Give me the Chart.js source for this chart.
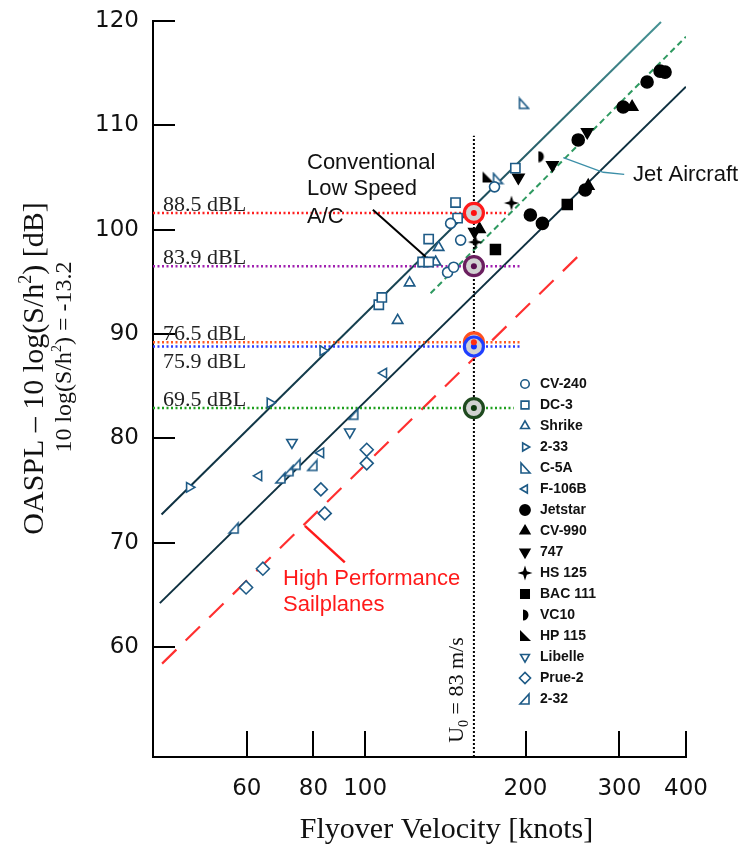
<!DOCTYPE html>
<html><head><meta charset="utf-8">
<script src="https://cdn.jsdelivr.net/npm/chart.js@4.4.1/dist/chart.umd.min.js"></script>
<style>html,body{margin:0;padding:0;background:#fff}#wrap{position:relative;width:746px;height:845px}</style>
</head><body><div id="wrap"><canvas id="c"></canvas></div>
<script>
// ---------------- data ----------------
const xTicks = [60, 80, 100, 200, 300, 400];
const yTicks = [60, 70, 80, 90, 100, 110, 120];
const aircraftNames = ['CV-240','DC-3','Shrike','2-33','C-5A','F-106B','Jetstar','CV-990','747','HS 125','BAC 111','VC10','HP 115','Libelle','Prue-2','2-32'];
// [velocity knots, OASPL-10log(S/h^2) dB]
const cv240 = [[144.7,100.6],[151.1,99.0],[142.8,95.9],[146.6,96.4],[174.9,104.1]];
const dc3 = [[106.1,92.8],[107.5,93.5],[128.2,96.9],[131.6,96.9],[131.6,99.1],[149.1,101.1],[147.8,102.6],[191.4,105.9]];
const shrike = [[115.1,91.3],[121.2,94.9],[135.6,96.9],[137.4,98.3]];
const s233 = [[46.8,75.3],[66.3,83.4],[83.3,88.4]];
const c5a = [[198.2,112.1],[177.2,104.9]];
const f106b = [[63.2,76.4],[82.6,78.6],[108.4,86.25]];
const jetstar = [[251.1,108.6],[304.9,111.75],[338.1,114.15],[357.6,115.2],[365.4,115.1],[204.2,101.4],[215.1,100.6],[258.8,103.8]];
const cv990 = [[316.9,111.75],[262.2,104.2],[163.9,100.05]];
const b747 = [[261.1,109.36],[224.6,106.2],[193.9,105.0],[160.4,99.8]];
const hs125 = [[161.1,98.8],[188.2,102.55]];
const bac111 = [[175.6,98.1],[239.5,102.4]];
const vc10 = [[213.2,107.0]];
const hp115 = [[169.7,105.0]];
const libelle = [[72.9,79.6],[93.6,80.6]];
const prue2 = [[59.8,65.7],[64.3,67.5],[84.0,72.8],[82.6,75.1],[100.7,78.9],[100.7,77.6]];
const s232 = [[56.8,71.4],[69.5,76.2],[72.0,76.9],[74.2,77.5],[79.8,77.4],[95.2,82.3]];
const aircraftData = [cv240, dc3, shrike, s233, c5a, f106b, jetstar, cv990, b747, hs125, bac111, vc10, hp115, libelle, prue2, s232];

const upperLine = [[41.5,72.7],[359,119.9]];
const lowerLine = [[41.2,64.2],[400,113.7]];
const jetLine = [[132.7,93.9],[400,118.5]];
const sailLine = [[41.6,58.4],[255.6,97.85]];

const u0Knots = 160;
const u0LineTop = 109;
const refLevels = [101.6, 96.5, 89.2, 88.8, 82.9];
const refLineEnds = [186, 196, 195, 195, 190];
const refLabels = ['88.5 dBL','83.9 dBL','76.5 dBL','75.9 dBL','69.5 dBL'];

const leaderConv = [[103.4,101.9],[129.9,97.4]];
const leaderJet = [[235.4,106.9],[279.8,105.5],[306.3,105.3]];
const leaderSail = [[77.1,71.6],[91.6,68.1]];

// ---------------- styles ----------------
const OPEN = '#1d5a86';
function mk(w, h, draw){ const c=document.createElement('canvas'); c.width=w; c.height=h; const g=c.getContext('2d'); draw(g); return c; }
const imgC5A = mk(14,14,g=>{g.beginPath();g.moveTo(3,2);g.lineTo(3,12);g.lineTo(12,12);g.closePath();g.fillStyle='#fff';g.fill();g.lineWidth=1.6;g.strokeStyle=OPEN;g.stroke();});
const img232 = mk(14,14,g=>{g.beginPath();g.moveTo(11,2);g.lineTo(11,12);g.lineTo(2,12);g.closePath();g.fillStyle='#fff';g.fill();g.lineWidth=1.6;g.strokeStyle=OPEN;g.stroke();});
const imgHP = mk(14,14,g=>{g.beginPath();g.moveTo(2,1);g.lineTo(2,12);g.lineTo(13,12);g.closePath();g.fillStyle='#000';g.fill();});
const imgVC = mk(12,12,g=>{g.beginPath();g.arc(4,6,5.5,-Math.PI/2,Math.PI/2);g.closePath();g.fillStyle='#000';g.fill();});
const imgHS = mk(16,16,g=>{g.beginPath();for(let i=0;i<8;i++){const a=i*Math.PI/4-Math.PI/2;const r=i%2===0?7.5:2.6;g.lineTo(8+r*Math.cos(a),8+r*Math.sin(a));}g.closePath();g.fillStyle='#000';g.fill();});
const markerStyles = [
 {ps:'circle', r:5, open:true},
 {ps:'rect', r:6.5, open:true},
 {ps:'triangle', r:6, open:true},
 {ps:'triangle', rot:90, r:5.5, open:true},
 {ps:imgC5A},
 {ps:'triangle', rot:-90, r:5.5, open:true},
 {ps:'circle', r:6},
 {ps:'triangle', r:6.5},
 {ps:'triangle', rot:180, r:6.5},
 {ps:imgHS},
 {ps:'rect', r:7},
 {ps:imgVC},
 {ps:imgHP},
 {ps:'triangle', rot:180, r:6, open:true},
 {ps:'rectRot', r:6.5, open:true},
 {ps:img232},
];
const pts = a => a.map(([x,y]) => ({x, y}));

const datasets = [];
const ringColors = ['#ff1a1a','#6b1f5f','#ff5020','#1f3fff','#1f4a1f'];
const dotColors = ['#ff1010','#5a1050','#ff3010','#1030ff','#0f3a0f'];
refLevels.forEach((lvl,i)=>{
  datasets.push({label:'dot'+i, data:[{x:u0Knots,y:lvl}], pointRadius:3, pointBorderWidth:0, pointBackgroundColor:dotColors[i], pointBorderColor:dotColors[i], order: 0, showLine:false});
});
refLevels.forEach((lvl,i)=>{
  datasets.push({label:'ring'+i, data:[{x:u0Knots,y:lvl}], pointRadius:9.5, pointBorderWidth:3.2, pointBackgroundColor:'#d2d2d2', pointBorderColor:ringColors[i], order: i===2 ? 1.5 : 1, showLine:false});
});
aircraftData.forEach((arr,i)=>{
  const s = markerStyles[i];
  datasets.push({label:aircraftNames[i], isAircraft:true, data:pts(arr), pointStyle:s.ps, pointRotation:s.rot||0, pointRadius:s.r||6,
    pointBackgroundColor: s.open?'#fff':'#000', pointBorderColor: s.open?OPEN:'#000', pointBorderWidth:1.6, order:2, showLine:false});
});
const refColors = ['#ff2020','#a020b0','#ff5a20','#2a3aff','#1fa01f'];
refLevels.forEach((lvl,i)=>{
  datasets.push({label:refLabels[i], data:[{x:40,y:lvl},{x:refLineEnds[i],y:lvl}], showLine:true, borderColor:refColors[i], borderWidth:2.5, borderDash:[2,2.5], pointRadius:0, order:3});
});
datasets.push({label:'U0', data:[{x:u0Knots,y:49.45},{x:u0Knots,y:u0LineTop}], showLine:true, borderColor:'#000', borderWidth:2, borderDash:[2,2], pointRadius:0, order:3});
datasets.push({label:'upper', data:pts(upperLine), showLine:true, borderWidth:2, pointRadius:0, order:4,
  borderColor: c => { const a=c.chart.chartArea; if(!a) return '#0e3344'; const g=c.chart.ctx.createLinearGradient(a.left,0,a.right,0); g.addColorStop(0,'#0d2f40'); g.addColorStop(0.6,'#1b4a58'); g.addColorStop(1,'#4c9c9c'); return g; }});
datasets.push({label:'lower', data:pts(lowerLine), showLine:true, borderWidth:2, pointRadius:0, order:4, borderColor:'#0e3040'});
datasets.push({label:'jet', data:pts(jetLine), showLine:true, borderWidth:2, pointRadius:0, order:4, borderColor:'#2e9960', borderDash:[6,4]});
datasets.push({label:'sail', data:pts(sailLine), showLine:true, borderWidth:2.2, pointRadius:0, order:4, borderColor:'#ff3030', borderDash:[20,13]});

function drawRich(ctx, parts, x, y){ let cx=x; parts.forEach(p=>{ctx.font=p.f; ctx.fillText(p.t, cx, y+(p.dy||0)); cx+=ctx.measureText(p.t).width;}); }
function richWidth(ctx, parts){ let w=0; parts.forEach(p=>{ctx.font=p.f; w+=ctx.measureText(p.t).width;}); return w; }

const SERIF = '"Liberation Serif", "Times New Roman", serif';
const SANS = '"Liberation Sans", Arial, sans-serif';

const annot = {
  id:'annot',
  afterDraw(chart){
    const {ctx, chartArea:a, scales:{x, y}} = chart;
    const P = (v, w) => [x.getPixelForValue(v), y.getPixelForValue(w)];
    ctx.save();
    ctx.strokeStyle='#000'; ctx.lineWidth=2;
    yTicks.forEach(v=>{const py=Math.round(y.getPixelForValue(v)); ctx.beginPath(); ctx.moveTo(a.left,py); ctx.lineTo(a.left+22,py); ctx.stroke();});
    xTicks.forEach(v=>{const px=Math.round(x.getPixelForValue(v)); ctx.beginPath(); ctx.moveTo(px,a.bottom); ctx.lineTo(px,a.bottom-26); ctx.stroke();});
    const poly = (arr, col, w) => { ctx.strokeStyle=col; ctx.lineWidth=w; ctx.setLineDash([]); ctx.beginPath(); arr.forEach(([u,v],k)=>{const [px,py]=P(u,v); k?ctx.lineTo(px,py):ctx.moveTo(px,py);}); ctx.stroke(); };
    poly(leaderConv, '#000', 2);
    poly(leaderJet, '#3c8fa8', 1.3);
    poly(leaderSail, '#ff1a1a', 2.5);
    ctx.fillStyle='#222'; ctx.font='22px '+SERIF; ctx.textAlign='left'; ctx.textBaseline='alphabetic';
    refLevels.forEach((lvl,i)=>{ const py=y.getPixelForValue(lvl); const below = i===3; ctx.fillText(refLabels[i], a.left+10, below ? py+22 : py-2); });
    ctx.fillStyle='#111'; ctx.font='22px '+SANS;
    ctx.fillText('Conventional', 307, 169);
    ctx.fillText('Low Speed', 307, 195);
    ctx.fillText('A/C', 307, 223);
    ctx.fillText('Jet Aircraft', 633, 181);
    ctx.fillStyle='#ff1a1a';
    ctx.fillText('High Performance', 283, 585);
    ctx.fillText('Sailplanes', 283, 611);
    ctx.font='bold 14px '+SANS; ctx.textBaseline='middle'; ctx.fillStyle='#111';
    const metas = chart.data.datasets.filter(d=>d.isAircraft);
    metas.forEach((d,i)=>{
      const ly = 384 + i*21, lx = 525;
      ctx.save();
      ctx.fillStyle = d.pointBackgroundColor; ctx.strokeStyle = d.pointBorderColor; ctx.lineWidth = d.pointBorderWidth;
      if (Chart.helpers && Chart.helpers.drawPoint) {
        Chart.helpers.drawPoint(ctx, {pointStyle:d.pointStyle, rotation:d.pointRotation, radius:d.pointRadius*0.85, borderWidth:d.pointBorderWidth}, lx, ly);
      }
      ctx.restore();
      ctx.fillStyle='#111';
      ctx.fillText(d.label, 540, ly);
    });
    ctx.textBaseline='alphabetic';
    ctx.fillStyle='#111';
    const yt = [{t:'OASPL – 10 log(S/h', f:'30px '+SERIF},{t:'2', f:'18px '+SERIF, dy:-12},{t:') [dB]', f:'30px '+SERIF}];
    ctx.save(); ctx.translate(43, 368.5); ctx.rotate(-Math.PI/2); drawRich(ctx, yt, -richWidth(ctx,yt)/2, 0); ctx.restore();
    const ys = [{t:'10 log(S/h', f:'24px '+SERIF},{t:'2', f:'14px '+SERIF, dy:-10},{t:') = -13.2', f:'24px '+SERIF}];
    ctx.save(); ctx.translate(71, 357); ctx.rotate(-Math.PI/2); drawRich(ctx, ys, -richWidth(ctx,ys)/2, 0); ctx.restore();
    const u0 = [{t:'U', f:'22px '+SERIF},{t:'0', f:'14px '+SERIF, dy:5},{t:' = 83 m/s', f:'22px '+SERIF}];
    ctx.save(); ctx.translate(463, 690); ctx.rotate(-Math.PI/2); drawRich(ctx, u0, -richWidth(ctx,u0)/2, 0); ctx.restore();
    ctx.font='30px '+SERIF; ctx.textAlign='center';
    ctx.fillText('Flyover Velocity [knots]', 446.5, 838);
    ctx.restore();
  }
};

new Chart(document.getElementById('c'), {
  type:'scatter',
  data:{datasets},
  options:{
    responsive:true, maintainAspectRatio:false, animation:false, events:[],
    layout:{padding:{top:21, right:60, left:0, bottom:0}},
    plugins:{legend:{display:false}, tooltip:{enabled:false}},
    scales:{
      x:{type:'logarithmic', min:40, max:400, position:'bottom',
        afterBuildTicks: s => { s.ticks = xTicks.map(v=>({value:v})); },
        afterFit: s => { s.height = 88; s.paddingLeft = 0; s.paddingRight = 0; },
        ticks:{autoSkip:false, maxRotation:0, minRotation:0, padding:18, color:'#111', font:{family:'DejaVu Sans', size:23}, callback: v => String(v)},
        grid:{display:true, drawOnChartArea:false, drawTicks:false},
        border:{display:true, color:'#000', width:2}
      },
      y:{type:'linear', min:49.45, max:120,
        afterBuildTicks: s => { s.ticks = yTicks.map(v=>({value:v})); },
        afterFit: s => { s.width = 153; s.paddingTop = 0; s.paddingBottom = 0; },
        ticks:{padding:14, color:'#111', font:{family:'DejaVu Sans', size:23}, callback: v => String(v)},
        grid:{display:true, drawOnChartArea:false, drawTicks:false},
        border:{display:true, color:'#000', width:2}
      }
    }
  },
  plugins:[annot]
});
</script></body></html>
